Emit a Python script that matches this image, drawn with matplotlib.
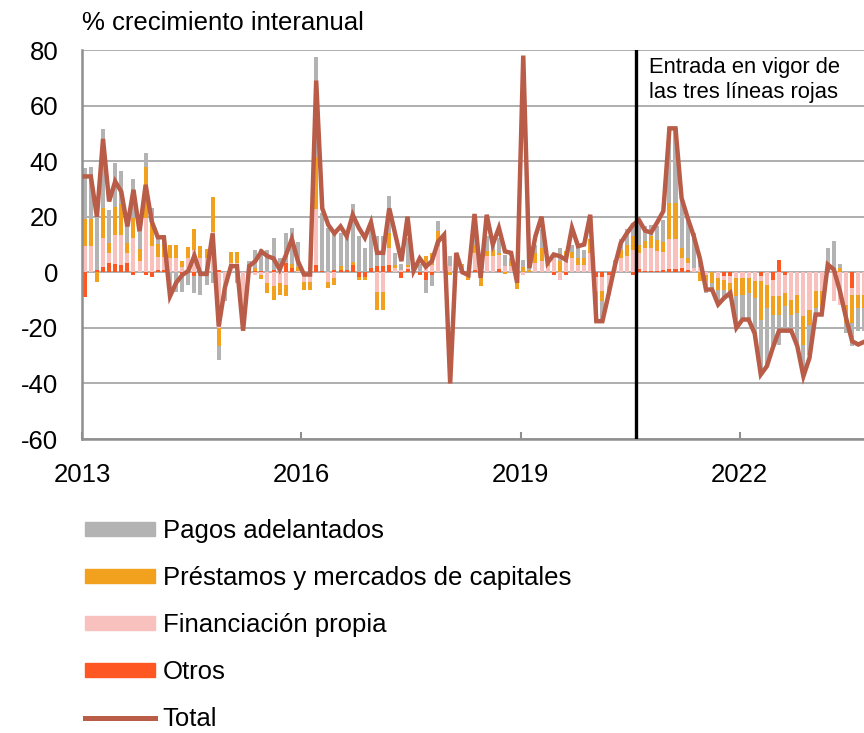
import numpy as np
import matplotlib
matplotlib.use("Agg")
import matplotlib.pyplot as plt
from matplotlib.patches import Patch
from matplotlib.lines import Line2D

plt.rcParams['font.family'] = ['Liberation Sans', 'DejaVu Sans']
plt.rcParams['axes.unicode_minus'] = False

start_year = 2013

total = [34.5, 34.5, 20, 48, 25.5, 32.7, 29, 16.5, 29.7, 14.7, 31.5, 18.3,
         12.6, 12.6, -8.6, -3.8, -1, 0.5, 6, -0.6, -0.6, 14, -19.5, -5.6,
         2.2, 2.2, -21, 2.2, 4, 7.5, 5.8, 5, 1, 6, 12, 4,
         -0.8, -0.8, 69, 23, 17, 14, 16.5, 13, 20.7, 16, 12.4, 18,
         7, 7, 23, 13.5, 4, 20, 0.5, 5, 2, 4, 11, 13.5,
         -40, 7, 0, -1, 21, -2, 20.7, 10, 16, 7.5, 7, -3.8,
         78, 1.5, 13, 20, 3.4, 6.4, 5.8, 4.5, 16, 9.4, 10, 20.7,
         -17.6, -17.6, -8, 2, 10.5, 14, 17, 18.8, 15, 14.3, 18, 22,
         51.8, 51.8, 26.7, 19.5, 13, 5, -6.2, -6.2, -11.6, -9.2, -7.4, -20,
         -17, -17, -22, -36.8, -33.8, -27, -21, -21, -21, -26.6, -37.4, -30.8,
         -15.2, -15.2, 2.8, 1, -6.8, -16.4, -24.8, -26, -25]

pagos = [18.5, 19, 19, 28.5, 12, 16, 12, 6, 14, 6, 5, 4,
         2.5, 2, -8, -7, -6, -4.5, -6, -8, -4.5, -4, -5, -3.5,
         0, -4, -3, 1, 6.5, 8, 8, 11.5, 5, 11, 13, 9,
         0, 0, 36, 21, 16, 14, 12, 14, 21, 13, 8.6, 16,
         11, 11, 13.2, 4.2, 2, 10, 1, 3, -5, -4, 3.8, 1.5,
         3.8, 2, 0, 0, 6, 0, 5.4, 3, 5.4, 4.2, 1, 0,
         2.8, 1.8, 3, 6.6, 0, 1.8, 4.6, 0, 2.6, 4, 3, 0,
         -7.2, -7.2, -3, 1.5, 3.6, 5.4, 4.8, 8.4, 5.4, 4.2, 5, 8,
         27, 27, 17.3, 15, 12.6, 3.4, -4.5, -3, -5.4, -3, -2.5, -11.4,
         -9.6, -10, -13.8, -20, -21, -10.8, -10.8, -9, -6, -11.4, -11.4, -10.8,
         -1.8, -1.8, 5.4, 10.8, 1.5, -3.6, -8.4, -8, -8]

prestamos = [9.5, 9.5, -3.5, 10.5, 3.5, 10, 11, 3.5, 7, 4.3, 18.5, 9.5,
             4.8, 4.8, 5, 5, 2, 4.2, 7.5, 4.5, 3.5, 12.5, -6.5, 0,
             4, 4, -3, 1.5, 1, -1.5, -3.5, -5, -4, -4, 1.5, 1.5,
             -3, -3, 19, 0, -2.4, -2.4, 1.5, 0, 1, -1, -1, 0,
             -6.6, -6.6, 5.6, 1.2, 0, 0.7, 0, 0, 4, 4.2, 5.4, 0,
             -1, 1, 2, -2.6, 3, -5, 1.8, 2.4, 0.8, -0.5, 1.8, -4,
             1.8, 1, 3.6, 4.8, 1.8, 0, 4, 3.5, 2.2, 2.4, 2.4, 4.8,
             -3.6, -3.6, 0, 0, 3, 4.2, 4.8, 3, 2.4, 4.2, 4, 3.6,
             13, 13, 3.6, 1.8, 0, -3.2, -2, -3.8, -4.2, -3.6, -3, -6.6,
             -6, -5.4, -6, -13.8, -8.4, -6.6, -6.6, -4.8, -5.4, -6.6, -10.2, -5.4,
             -6, -5.4, 1.2, 0.5, 1.5, -6.6, -10.2, -5, -5]

financiacion = [9.5, 9.5, 0, 10.5, 3.5, 10.5, 11, 3.5, 12.5, 4.2, 19.5, 9.5,
                4.8, 4.8, 5, 5, 2, 5, 8, 5, 5, 14.5, -20, -7,
                3.4, 3.4, -15, 1.5, -1, -1, -4, -5, -4, -4.5, 0, 0.5,
                -3.4, -3.4, 20, 0, -3.4, -2.2, 0, 0, 0, 0, 0, 0,
                -7, -7, 5.8, 1.6, 1, 0.5, 1, 0, 2, 2.8, 9.4, 12,
                2.2, 1, 1, 0, 6, 0, 5.8, 5.8, 4.8, 2.2, 2.2, -2,
                -0.8, 0, 3.4, 4, 2.2, 5.2, -2.6, 4, 5.2, 2.8, 2.8, 7,
                -5.2, -5.2, -4, 2.8, 5.2, 5.8, 8.2, 5.6, 8.5, 8.2, 7, 6.5,
                10.8, 10.8, 3.6, 2.2, 1.4, 1.8, -1, 0, -2, -1.2, -2.4, -2,
                -2, -2, -3.2, -2, -4.4, -6, -8.6, -6.4, -9.8, -8, -15.8, -13.4,
                -6.8, -6.8, 0, -10.4, -11.6, -11.6, -2.4, -8, -8]

otros = [-9, 0, 0.8, 2, 3.5, 3, 2.5, 3.5, -0.8, 0, -0.8, -1.7,
         0.7, 0.7, 0, 0, -1, 0, -1.4, 0, 0, 0, 0.7, 0,
         0, 0, 0, 0, 0.5, 0.5, 0, 1, 0, 3.3, 1.4, 0,
         0, 0, 2.6, 0.5, 0, 0.8, 0.8, 0.8, 2.6, -1.8, -1.8, 1.5,
         2.2, 2.2, 2.8, 0, -2, 1.3, 0, -1, -2.6, -1, 0, 0,
         0, 0, 0, 0, 1, 0, 0, 0, 1.3, 0, 0, 0,
         0, 0, 0, 0, 0, -1, 0, -1, 0, 0, 0, 0,
         -1.7, -1.7, -1, 0, 0, 0, -0.8, 1.3, 0.4, 0.5, 0.5, 0.8,
         1.1, 1.1, 1.4, 1, 0, 0, 0, 0, 0, -1.4, -1.4, 0,
         0, 0, 0, -1.2, 0, -2.6, 4.6, -1, 0, 0, 0, 0,
         0, 0, 2.2, 0, 0, 0, -5.6, 0, 0]

year_ticks = [2013, 2016, 2019, 2022]
y_ticks = [-60, -40, -20, 0, 20, 40, 60, 80]
policy_date = 2020 + 7 / 12

c_grey = '#b3b3b3'
c_orange = '#f2a11f'
c_pink = '#f8c1be'
c_red = '#ff5722'
c_line = '#b95c48'

n = len(total)
x = start_year + (np.arange(n) + 0.45) / 12

fig = plt.figure(figsize=(8.64, 7.33), dpi=100)
ax = fig.add_axes([82 / 864, 1 - 439 / 733, 1 - 82 / 864, (439 - 50) / 733])

pos_bottom = np.zeros(n)
neg_bottom = np.zeros(n)
bw = 0.055
for vals, col in [(otros, c_red), (financiacion, c_pink),
                  (prestamos, c_orange), (pagos, c_grey)]:
    v = np.array(vals, dtype=float)
    pos = np.where(v > 0, v, 0)
    neg = np.where(v < 0, v, 0)
    ax.bar(x, pos, width=bw, bottom=pos_bottom, color=col, linewidth=0, zorder=2)
    ax.bar(x, neg, width=bw, bottom=neg_bottom, color=col, linewidth=0, zorder=2)
    pos_bottom += pos
    neg_bottom += neg

ax.plot(x, total, color=c_line, lw=3.2, solid_joinstyle='miter', zorder=4)

ax.axvline(policy_date, color='black', lw=2.4, zorder=5)
ax.text(policy_date + 0.17, 77.6, 'Entrada en vigor de\nlas tres líneas rojas',
        fontsize=15.8, va='top', ha='left', linespacing=1.3, zorder=6)

ax.set_xlim(2013, 2023.70)
ax.set_ylim(-60, 80)
ax.set_yticks(y_ticks)
ax.set_xticks(year_ticks)
ax.set_xticklabels([str(t) for t in year_ticks])
ax.yaxis.grid(True, color='#a8a8a8', lw=1.3, zorder=0)
ax.set_axisbelow(True)
for s in ['top', 'right']:
    ax.spines[s].set_visible(False)
for s in ['left', 'bottom']:
    ax.spines[s].set_color('#8f8f8f')
    ax.spines[s].set_linewidth(1.8)
ax.tick_params(axis='y', direction='in', length=0, pad=17, labelsize=18.5)
ax.tick_params(axis='x', direction='in', length=5, width=1.5, color='#8f8f8f',
               pad=17, labelsize=18.5)

fig.text(82 / 864, 1 - 23 / 733, '% crecimiento interanual', fontsize=18.5,
         ha='left', va='center')

handles = [Patch(color=c_grey), Patch(color=c_orange), Patch(color=c_pink),
           Patch(color=c_red), Line2D([], [], color=c_line, lw=3.6)]
labels = ['Pagos adelantados', 'Préstamos y mercados de capitales',
          'Financiación propia', 'Otros', 'Total']
fig.legend(handles, labels, loc='upper left', bbox_to_anchor=(85 / 864, 1 - 519 / 733),
           frameon=False, fontsize=18.5, handlelength=2.72, handleheight=0.47,
           handletextpad=0.3, labelspacing=0.9, borderpad=0, borderaxespad=0)

fig.savefig('out.png', dpi=100)
